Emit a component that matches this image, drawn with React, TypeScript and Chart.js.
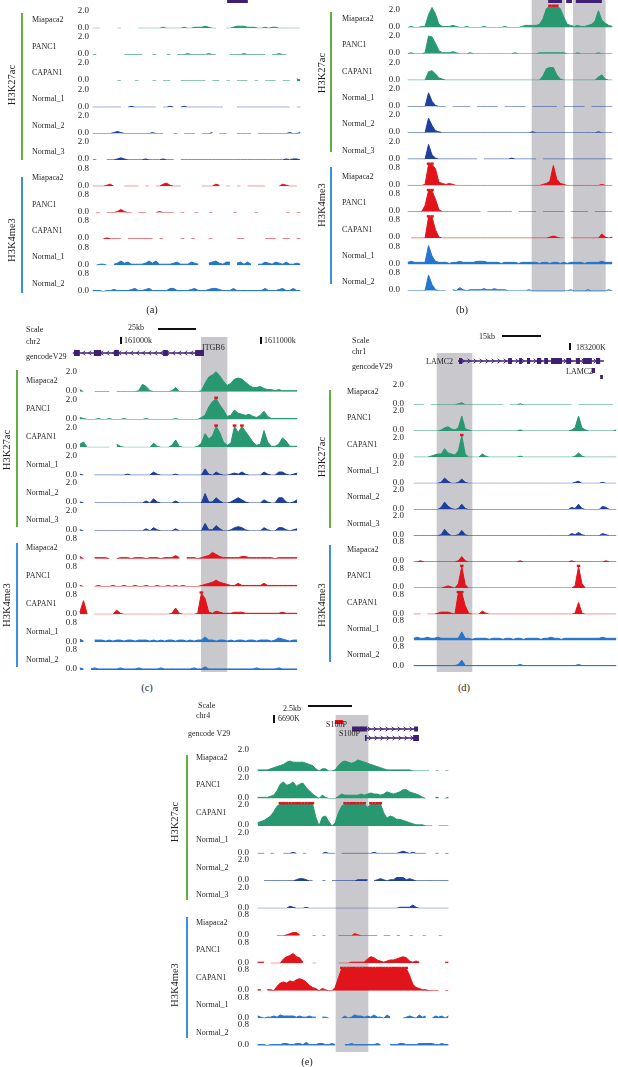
import React, { useEffect, useRef } from 'react';
import { Chart, registerables } from 'chart.js';

Chart.register(...registerables);

const n = null;
const NBINS = 60;

// ---------- track metadata ----------
const SAMPLES = ['Miapaca2', 'PANC1', 'CAPAN1', 'Normal_1', 'Normal_2', 'Normal_3', 'Miapaca2', 'PANC1', 'CAPAN1', 'Normal_1', 'Normal_2'];
const TRACK_KIND = ['k27', 'k27', 'k27', 'k27', 'k27', 'k27', 'k4', 'k4', 'k4', 'k4', 'k4'];
const TRACK_GROUP = ['k27c', 'k27c', 'k27c', 'k27n', 'k27n', 'k27n', 'k4c', 'k4c', 'k4c', 'k4n', 'k4n'];
const MARK_LABELS = ['H3K27ac', 'H3K4me3'];
const K27_TICK_LABELS = ['0.0', '2.0'];
const K4_TICK_LABELS = ['0.0', '0.8'];
const VIEW_MAX: any = { k27: 2.0, k4: 0.8 };
const UNIT: any = { k27: 0.1, k4: 0.04 }; // step of the integer signal arrays below

// ---------- panel (a) signal ----------
const A_MIA_K27 = [
  0, 0, 0, n, n, n, n, 0, 0, n,
  n, n, n, 0, 0, 0, 0, 0, 0, 0,
  1, 0, 0, 0, 0, 0, 1, 0, 0, 1,
  1, 1, 2, 1, 0, 0, n, n, 0, 0,
  1, 2, 2, 2, 1, 1, 1, 0, 0, 1,
  0, 1, 1, 0, 0, 0, 0, 0, 0, 0];
const A_PAN_K27 = [
  0, 0, n, n, n, n, n, n, n, 0,
  0, 0, 0, 0, 0, n, n, 0, 0, n,
  n, 0, 0, n, 0, 0, 0, 1, 0, 0,
  0, 0, 0, 1, 0, 0, n, n, n, 0,
  0, 0, 0, 1, 0, 0, 0, 0, 0, 0,
  n, 0, 0, 1, 0, 0, n, n, n, n];
const A_CAP_K27 = [
  n, n, n, n, n, n, n, 0, 0, n,
  n, n, 0, 0, n, n, n, 0, 0, n,
  0, 0, 0, n, n, 0, 0, 0, 0, 0,
  0, 0, 0, n, 0, 0, 0, n, 0, 0,
  n, 0, 0, 0, 0, n, 0, 0, n, 0,
  0, 0, 0, n, 0, 0, 0, n, 2, 1];
const A_N1_K27 = [
  0, 0, 0, 0, 0, 0, 0, 0, 0, n,
  0, 1, 0, 0, 0, 0, 0, 0, 0, n,
  0, 0, 1, 0, n, 0, 1, 0, 0, 0,
  0, 0, 0, 0, 0, 0, 0, 0, n, n,
  n, 0, 0, 0, 0, 0, 0, 0, 0, 0,
  0, 0, 0, 0, 0, 0, 0, n, 0, 0];
const A_N2_K27 = [
  0, 0, 0, 0, 0, 0, 1, 2, 1, 0,
  0, 0, 0, 0, 0, 0, 0, 1, 0, 0,
  0, n, n, 0, 0, n, 0, 0, 0, 0,
  n, 0, 0, 0, 1, n, 0, 0, 0, n,
  n, 0, 0, 0, 0, 0, n, 0, 0, 0,
  0, 0, 0, 0, 0, 0, 1, 0, 0, 1];
const A_N3_K27 = [
  0, 0, n, n, 0, 0, 0, 1, 2, 1,
  0, 0, 0, 0, 0, 1, 0, 0, 0, 0,
  1, 0, 0, 0, n, 0, 0, 0, 0, 0,
  0, 0, 0, 0, 0, 0, 0, 0, 0, 0,
  0, 0, 0, 0, 0, 0, 0, 0, 0, 0,
  0, 0, 0, 0, 0, 1, 0, 1, 1, 0];
const A_MIA_K4 = [
  0, 0, 0, 0, 1, 2, 0, n, n, 0,
  0, 0, 0, 0, n, 0, 0, n, 0, 0,
  2, 3, 1, 0, 0, 0, n, n, n, n,
  n, 0, 0, 0, 0, 2, 1, n, 0, 0,
  n, 0, 0, n, 0, 0, 0, 0, 0, 0,
  n, n, n, 0, 2, 1, 0, 0, 0, n];
const A_PAN_K4 = [
  n, 0, 0, n, 0, 0, 0, 1, 3, 1,
  0, 0, n, 0, 0, 0, n, n, 0, 1,
  0, 0, 0, 0, n, 0, 0, n, n, 0,
  0, n, n, 0, 0, n, n, n, n, n,
  0, 0, n, n, n, n, 0, 0, n, n,
  n, n, n, n, n, 0, 0, n, 0, 0];
const A_CAP_K4 = [
  n, n, n, 0, 1, 0, 0, 0, 0, n,
  0, 0, 0, 0, 0, 0, 0, 0, n, 0,
  0, n, n, n, n, 0, 0, n, 0, 0,
  n, n, n, 0, 0, n, n, n, n, n,
  n, 0, 0, 0, n, n, n, n, n, 0,
  0, 0, 0, n, 0, 0, 0, n, 0, 0];
const A_N1_K4 = [
  n, 0, 1, 1, 0, n, 1, 2, 4, 2,
  3, 1, 1, 1, 1, 2, 4, 2, 4, 1,
  1, 1, 1, 2, 3, 1, 1, 1, 3, 2,
  1, n, n, 2, 3, 4, 2, 1, 3, 3,
  n, 2, 3, 1, 3, 1, n, 1, 1, 3,
  2, 1, 3, 2, 1, 3, 1, 1, 2, 1];
const A_N2_K4 = [
  1, 1, 1, 0, 1, 1, 2, 1, 1, 1,
  1, 2, 3, 1, 1, 2, 3, 1, 1, 1,
  1, 1, 3, 3, 1, 1, 1, 1, 2, 3,
  1, 1, 1, 2, 3, 3, 2, 1, 1, 1,
  3, 1, 1, 1, 1, 1, 1, 1, 1, 3,
  1, 1, 1, 2, 3, 1, 1, 3, 1, 1];

// ---------- panel (b) signal ----------
const B_MIA_K27 = [
  0, 1, 0, 0, 1, 1, 12, 19, 13, 3,
  1, 1, 1, 2, 1, 0, 0, 1, 0, 0,
  0, 0, 1, 0, 0, 0, 0, 0, 1, 0,
  0, 0, 0, 1, 2, 2, 2, 2, 3, 8,
  18, 20, 20, 20, 18, 10, 3, 2, 1, 2,
  1, 1, 2, 3, 6, 16, 7, 4, 2, 1];
const B_PAN_K27 = [
  0, 1, 0, 0, 0, 1, 17, 16, 10, 3,
  1, 1, 1, 2, 1, 0, 0, 0, 1, 0,
  0, 0, 0, 0, 0, 0, 0, 0, 0, 0,
  0, 1, 0, 0, 0, 0, 0, 0, 1, 1,
  1, 1, 1, 1, 1, 1, 0, 0, 0, 1,
  0, 0, 0, 0, 0, 1, 0, 0, 0, 0];
const B_CAP_K27 = [
  0, 0, 0, 0, 0, 0, 8, 9, 6, 2,
  1, 0, 0, 0, 0, 0, 0, 0, 0, 0,
  0, 0, 0, 0, 0, 0, 0, 0, 0, 0,
  0, 0, 0, 0, 0, 0, 0, 0, 0, 4,
  11, 12, 12, 5, 1, 0, 0, 0, 0, 0,
  0, 0, 0, 0, 0, 3, 5, 1, 0, 0];
const B_N1_K27 = [
  0, 0, 0, 0, 0, 0, 13, 5, 1, 0,
  0, 0, n, 0, 0, 0, 0, 0, 0, n,
  0, 0, 0, 0, 0, 0, 0, n, 0, 0,
  0, 0, 0, 0, 0, n, 0, 0, 0, 0,
  0, 0, 0, 0, n, 0, 0, 0, 0, 0,
  0, 0, n, 0, 0, 0, 0, 0, 0, 0];
const B_N2_K27 = [
  0, 0, 0, 0, 0, 0, 14, 7, 2, 1,
  0, 0, 0, 0, 0, 0, 0, 0, 0, 0,
  0, 0, 0, 0, 0, 0, 0, 0, 0, 0,
  0, 0, 0, 0, 0, 0, 1, 0, 0, 0,
  0, 0, 0, 0, 0, 0, 0, 0, 0, 0,
  0, 0, 0, 0, 0, 1, 0, 0, 0, 0];
const B_N3_K27 = [
  0, 0, 0, 0, 0, 0, 14, 4, 1, 0,
  0, 0, 0, 0, 0, 0, 0, 0, 0, 0,
  0, n, 0, 0, 0, 0, 0, 0, 0, 0,
  1, 0, 0, 0, 0, 0, 0, 0, n, 0,
  0, 0, 0, 0, 0, 0, 0, 0, 0, 0,
  0, 0, 0, 0, 0, 0, 0, 0, 0, 0];
const B_MIA_K4 = [
  0, 0, 0, 0, 0, 1, 20, 20, 16, 3,
  2, 1, 2, 1, 0, 0, 0, 0, 0, 0,
  0, 0, 0, 0, 0, 0, 0, 0, 0, 0,
  0, 0, 0, 0, 0, 0, 0, 0, 0, 1,
  2, 4, 19, 6, 2, 1, 0, 0, 0, 0,
  0, 0, 0, 0, 0, 0, 1, 0, 0, 0];
const B_PAN_K4 = [
  0, 0, 0, 0, 0, 6, 20, 20, 12, 2,
  0, 0, 0, 0, 0, 0, 0, 0, 0, 0,
  0, 0, n, 0, 0, 0, 0, 0, 0, 0,
  0, n, 0, 0, 0, 0, 0, 0, n, 0,
  0, 0, 0, 0, 0, 0, n, 0, 0, 0,
  0, 0, 0, n, 0, 0, 0, 0, 0, 0];
const B_CAP_K4 = [
  n, 0, 0, 0, 0, 0, 20, 20, 8, 1,
  0, 0, 0, 0, 0, 0, 0, 0, 0, 0,
  0, 0, 0, 0, 0, 0, 0, 0, 0, 0,
  0, 0, 0, 0, 0, 0, 0, 0, 0, 0,
  0, 1, 2, 1, 0, 0, n, 0, 0, 0,
  0, 0, 0, 0, 0, 0, 4, 1, 0, 1];
const B_N1_K4 = [
  2, 3, 2, 2, 2, 2, 18, 8, 3, 2,
  2, 2, 1, 2, 2, 3, 2, 2, 2, 2,
  3, 3, 3, 2, 2, 2, 2, 1, 2, 2,
  2, 2, 1, 2, 2, 2, 2, 2, 1, 2,
  2, 1, 2, 2, 1, 2, 1, 2, 2, 2,
  2, 1, 2, 2, 2, 2, 3, 2, 2, 2];
const B_N2_K4 = [
  0, 0, 0, 0, 0, 0, 15, 6, 1, 0,
  0, 0, n, 1, 0, 3, 1, 0, 1, 1,
  1, 1, 2, 1, 1, 2, 1, 1, 1, 0,
  0, 0, 0, 0, 0, 1, 0, 0, 0, 0,
  0, 0, 0, 0, 0, 0, 0, 1, 0, 0,
  0, 0, 1, 0, 0, 0, 0, 0, 1, 0];

// ---------- panel (c) signal ----------
const C_MIA_K27 = [
  2, 0, n, n, 0, 0, 0, 0, 0, n,
  0, 0, 0, 0, 0, 0, 1, 7, 5, 1,
  0, 0, 0, 0, 0, 1, 4, 0, 0, 0,
  0, 0, 0, 1, 8, 14, 16, 19, 15, 10,
  6, 8, 12, 13, 12, 9, 6, 4, 4, 5,
  3, 2, 2, 1, 2, 1, 1, 1, 1, 1];
const C_PAN_K27 = [
  2, 1, 0, 0, 0, 1, 0, 0, 1, 0,
  0, 0, 1, 0, 0, 0, 0, 0, 1, 0,
  0, 0, 0, 0, 0, 0, 1, 0, 0, 0,
  0, 0, 0, 2, 4, 12, 17, 20, 14, 9,
  3, 4, 9, 6, 5, 4, 5, 3, 2, 4,
  8, 3, 1, 1, 1, 1, 1, 1, 1, 1];
const C_CAP_K27 = [
  3, 5, 0, 0, 0, 0, 0, 0, 0, n,
  3, 1, 0, 0, 0, 0, 0, 0, 0, 0,
  4, 1, 0, 0, 0, 2, 7, 1, 0, 0,
  0, 0, 1, 4, 13, 8, 11, 20, 14, 5,
  2, 4, 20, 14, 20, 15, 10, 5, 2, 3,
  16, 5, 1, 1, 3, 9, 6, 1, 1, 1];
const C_N1_K27 = [
  1, 0, n, n, 0, 0, 0, 0, 0, 0,
  0, 0, 0, 1, 0, 0, 0, 0, 0, 0,
  3, 1, 0, 0, 0, 0, 1, 0, 0, 0,
  0, 0, 0, 0, 6, 1, 0, 3, 1, 0,
  0, 1, 2, 1, 3, 1, 0, 0, 0, 0,
  3, 1, 0, 0, 3, 3, 1, 0, 1, 2];
const C_N2_K27 = [
  1, 0, n, n, 0, 0, 0, 0, 0, 0,
  0, 0, 0, 0, 0, 0, 0, 0, 2, 0,
  4, 1, 0, 0, 0, 0, 2, 0, 0, 0,
  0, 0, 0, 0, 9, 1, 1, 5, 2, 0,
  0, 1, 3, 5, 3, 1, 0, 0, 0, 0,
  3, 1, 0, 0, 5, 5, 1, 0, 1, 3];
const C_N3_K27 = [
  1, 0, n, n, 0, 0, 0, 0, 0, 0,
  0, 0, 0, 0, 0, 0, 0, 0, 2, 0,
  3, 1, 0, 0, 0, 0, 2, 0, 0, 0,
  0, 0, 0, 0, 7, 1, 1, 5, 2, 0,
  0, 1, 3, 4, 3, 1, 0, 0, 0, 0,
  3, 1, 0, 0, 3, 3, 1, 0, 1, 2];
const C_MIA_K4 = [
  2, 0, n, n, 1, 1, 1, 1, 0, n,
  0, 1, 1, 1, 0, 1, 1, 1, 0, 1,
  1, 1, 0, 1, 1, 1, 3, 1, n, 1,
  1, 1, 0, 1, 2, 3, 6, 4, 2, 1,
  1, 1, 1, 1, 2, 2, 1, 1, 1, 1,
  1, 1, 1, 0, 1, 1, 1, 1, 1, 1];
const C_PAN_K4 = [
  1, 0, n, n, 0, 1, 0, 0, 0, 1,
  0, 0, 1, 0, 0, 1, 0, 0, 1, 0,
  0, 1, 0, 0, 1, 0, 1, 0, 1, 0,
  0, 0, 0, 1, 2, 3, 4, 6, 4, 3,
  2, 1, 1, 3, 1, 1, 1, 1, 1, 1,
  3, 1, 1, 1, 1, 1, 1, 1, 1, 1];
const C_CAP_K4 = [
  2, 13, 0, n, 0, 0, 0, 0, 0, 0,
  4, 1, 0, 0, 0, 0, 0, 0, 0, 0,
  0, 0, 0, 0, 0, 1, 6, 1, 0, 0,
  0, 0, 1, 20, 15, 2, 1, 3, 2, 1,
  1, 1, 2, 2, 2, 1, 1, 1, 1, 1,
  1, 1, 1, 1, 1, 2, 1, 1, 1, 1];
const C_N1_K4 = [
  3, 1, n, n, 2, 2, 2, 1, 2, 1,
  2, 2, 1, 2, 2, 1, 2, 2, 2, 1,
  2, 1, 2, 1, 2, 2, 1, 2, 2, 1,
  2, 1, 2, 2, 5, 2, 2, 1, 2, 2,
  1, 2, 1, 2, 2, 1, 2, 2, 1, 2,
  2, 2, 1, 2, 4, 3, 2, 1, 2, 2];
const C_N2_K4 = [
  2, 1, n, 1, 2, 1, 1, 1, 1, 1,
  1, 2, 1, 1, 1, 1, 2, 1, 1, 1,
  1, 1, 2, 1, 1, 1, 1, 1, 1, 1,
  1, 2, 1, 1, 3, 1, 1, 1, 1, 1,
  1, 1, 1, 1, 1, 1, 1, 1, 2, 1,
  1, 1, 1, 1, 2, 1, 1, 1, 1, 1];

// ---------- panel (d) signal ----------
const D_MIA_K27 = [
  0, 0, 0, 0, n, 0, 0, 0, 0, 0,
  0, 0, 0, 1, 2, 0, 0, 0, 0, 0,
  0, 0, 0, 0, 0, 0, 0, n, 0, 0,
  0, 1, 0, 0, 0, 0, 0, 0, 0, 0,
  0, 0, 0, 0, 0, 0, 0, n, 0, 0,
  0, 0, 0, 0, 0, 0, 0, 0, 0, n];
const D_PAN_K27 = [
  0, 0, 0, 0, 0, 0, 0, 0, 1, 3,
  4, 2, 1, 3, 14, 2, 1, 0, 0, 0,
  0, 0, 0, 0, 0, 0, 0, 0, 0, 0,
  0, 1, 0, 0, 0, 0, 0, 0, 0, 0,
  0, 0, 0, 0, 0, 0, 1, 3, 14, 3,
  1, 0, 0, 0, 0, 0, 0, 0, 0, 1];
const D_CAP_K27 = [
  0, 0, 0, 0, 0, 1, 2, 3, 3, 8,
  4, 3, 2, 6, 20, 3, 0, 0, 0, 0,
  3, 1, 0, 0, 0, 0, 0, 0, 0, 0,
  0, 1, 0, 0, 0, 0, 0, 0, 0, 0,
  0, 0, 0, 0, 0, 0, 0, 1, 4, 1,
  0, 0, 0, 0, 0, 0, 0, 0, 0, 0];
const D_N1_K27 = [
  0, 0, 0, 0, 0, 0, 0, 0, 1, 5,
  2, 0, 0, 1, 4, 1, 0, 0, 0, 0,
  0, 0, 0, 0, 0, 0, 0, 0, 0, 0,
  0, 0, 0, 0, 0, 0, 0, 0, 0, 0,
  0, 0, 0, 0, 0, 0, 0, 1, 2, 0,
  0, 0, 0, 0, 0, 1, 0, 0, 0, 0];
const D_N2_K27 = [
  0, 0, 0, 0, 0, 0, 0, 0, 2, 7,
  3, 1, 0, 1, 5, 1, 0, 0, 0, 0,
  0, 0, 0, 0, 0, 0, 0, 0, 0, 0,
  0, 0, 0, 0, 0, 0, 0, 0, 0, 0,
  0, 0, 0, 0, 0, 0, 2, 1, 5, 1,
  0, 0, 0, 0, 0, 3, 2, 0, 0, 0];
const D_N3_K27 = [
  0, 0, 0, 0, 0, 0, 0, 0, 1, 6,
  2, 0, 0, 1, 5, 1, 0, 0, 0, 0,
  0, 0, 0, 0, 0, 0, 0, 0, 0, 0,
  0, 0, 0, 0, 0, 0, 0, 0, 0, 0,
  0, 0, 0, 0, 0, 0, 2, 1, 3, 1,
  0, 0, 0, 0, 0, 2, 1, 0, 0, 0];
const D_MIA_K4 = [
  0, 0, 1, 0, 0, 0, 0, 0, 0, 0,
  0, 0, 0, 1, 5, 1, 0, 0, 0, 0,
  0, 0, 0, 0, 0, 0, 0, 0, 0, 0,
  0, 1, 0, 0, 0, 0, 0, 0, 0, 0,
  0, 0, 0, 0, 0, 0, 1, 0, 0, 0,
  0, 0, 0, 0, 0, 0, 1, 0, 0, 0];
const D_PAN_K4 = [
  0, 0, 0, 0, 0, 0, 0, 0, 0, 1,
  2, 1, 0, 4, 20, 3, 0, 0, 0, 0,
  0, 0, 0, 0, 0, 0, 0, 0, 0, 0,
  0, 0, 0, 0, 0, 0, 0, 0, 0, 0,
  0, 0, 0, 0, 0, 0, 0, 2, 20, 4,
  0, 0, 0, 0, 0, 0, 0, 0, 0, 0];
const D_CAP_K4 = [
  0, 0, 0, n, 0, 0, 0, 1, 2, 2,
  2, 1, 0, 20, 20, 8, 1, 0, 0, 0,
  3, 1, 0, 0, 0, 0, 0, 0, 0, 0,
  0, 0, 0, 0, 0, 0, 0, 0, 0, 0,
  0, 0, 0, 0, 0, 0, 0, 1, 11, 1,
  0, 0, 0, 0, 0, 0, 0, 0, 0, 0];
const D_N1_K4 = [
  2, 3, 2, 2, 3, 2, 2, 3, 2, 2,
  2, 2, 2, 2, 8, 2, 2, 1, 2, 2,
  2, 2, 1, 2, 2, 2, 1, 2, 2, 1,
  2, 2, 1, 2, 2, 2, 2, 1, 2, 2,
  3, 2, 2, 1, 2, 2, 2, 2, 2, 2,
  2, 2, 2, 2, 2, 3, 2, 2, 2, 2];
const D_N2_K4 = [
  1, 1, 1, 1, 1, 1, 1, 1, 1, 1,
  1, 1, 1, 2, 6, 1, 1, 1, 1, 1,
  1, 1, 1, 1, 1, 1, 1, 1, 1, 1,
  1, 2, 1, 1, 1, 1, 1, 1, 1, 1,
  1, 1, 1, 1, 1, 1, 1, 1, 2, 1,
  1, 1, 1, 1, 1, 1, 1, 1, 1, 1];

// ---------- panel (e) signal ----------
const E_MIA_K27 = [
  1, 1, 1, 1, 2, 3, 4, 5, 6, 8,
  9, 8, 8, 8, 8, 7, 6, 5, 2, 0,
  2, 2, 0, 0, 1, 5, 8, 9, 8, 7,
  8, 10, 9, 8, 7, 6, 5, 4, 3, 2,
  1, 1, 1, 1, 1, 1, 1, 1, 0, 0,
  0, 0, 0, 0, n, 0, 0, n, 0, 0];
const E_PAN_K27 = [
  1, 1, 1, 1, 2, 3, 7, 13, 15, 12,
  13, 15, 11, 13, 14, 10, 7, 4, 2, 0,
  3, 1, 0, 0, 0, 2, 4, 3, 3, 3,
  3, 3, 4, 3, 4, 5, 4, 4, 3, 4,
  6, 5, 4, 5, 6, 8, 8, 6, 5, 4,
  3, 1, 0, n, n, 1, 1, n, 0, 1];
const E_CAP_K27 = [
  3, 4, 5, 7, 9, 13, 18, 20, 20, 20,
  20, 20, 20, 20, 20, 20, 20, 20, 8, 0,
  8, 9, 4, 0, 3, 12, 18, 20, 20, 20,
  20, 20, 20, 20, 17, 20, 20, 20, 20, 12,
  7, 9, 8, 6, 6, 5, 4, 3, 2, 1,
  1, 1, 0, 0, 0, n, 0, 0, 0, 0];
const E_N1_K27 = [
  0, 0, 0, n, 0, 0, n, n, 0, 0,
  0, 1, 0, n, 0, 0, n, n, n, n,
  0, 1, 0, 0, 0, n, 0, 0, 0, 0,
  0, 0, 0, 0, 0, 0, 1, 0, 0, 0,
  0, 0, 0, 0, 1, 2, 1, 0, 1, 0,
  0, 0, 0, n, n, 0, 0, n, 0, 0];
const E_N2_K27 = [
  n, n, 0, 0, 0, 0, 0, 0, 0, 0,
  0, 0, 1, 2, 2, 1, 0, 0, n, n,
  0, 0, n, 0, 0, 0, 0, 0, 0, 0,
  0, 1, 1, 1, 1, n, 0, 1, 2, 1,
  0, 1, 1, 3, 3, 3, 1, 2, 1, 0,
  0, 0, 0, 0, 0, 0, 0, 0, 0, 0];
const E_N3_K27 = [
  0, 0, 0, 0, 0, 0, 0, 0, 0, 0,
  2, 1, 0, 0, 0, 1, 0, 0, 0, 0,
  0, 0, 0, 0, 0, 0, 0, 0, 0, 0,
  0, 0, 0, 0, 0, 0, 0, 0, 0, 0,
  0, 0, 0, 0, 1, 1, 1, 1, 3, 1,
  0, 0, 0, 0, 0, 0, 0, 0, 0, 0];
const E_MIA_K4 = [
  n, n, n, n, n, n, 0, 0, 0, 1,
  2, 3, 3, 1, n, n, n, 0, 0, n,
  0, 0, n, n, n, 0, 0, 0, 0, 0,
  2, 1, 0, 0, 0, 0, 0, 0, n, 0,
  0, 0, n, 0, 0, n, n, 0, 0, n,
  n, 0, 0, n, n, n, 0, 0, n, n];
const E_PAN_K4 = [
  1, 1, 1, n, 0, 0, 0, 0, 4, 6,
  7, 9, 6, 5, 1, n, n, 0, 0, n,
  n, n, n, n, n, 0, 0, 0, 0, 1,
  1, 1, 1, 1, 4, 6, 5, 3, 2, 1,
  2, 3, 3, 4, 5, 6, 5, 2, 1, 2,
  1, n, n, n, n, n, n, n, 1, 1];
const E_CAP_K4 = [
  1, 1, n, 1, 1, 0, 4, 7, 8, 7,
  9, 8, 10, 11, 10, 8, 5, 3, 2, 0,
  2, 1, 0, 0, 3, 12, 20, 20, 20, 20,
  20, 20, 20, 20, 20, 20, 20, 20, 20, 20,
  20, 20, 20, 20, 20, 20, 20, 14, 6, 3,
  2, 1, 1, 0, 0, 0, 0, n, 0, 0];
const E_N1_K4 = [
  2, 1, 0, 1, 1, 2, 1, 3, 2, 2,
  2, 2, 1, 2, 1, 1, 2, 1, 1, n,
  1, 1, 0, n, n, n, 0, 2, 0, 1,
  3, 2, 2, 1, 2, 1, 3, 1, 1, 0,
  3, 1, n, n, n, 0, 1, 2, 1, 0,
  3, 1, 2, n, 0, 2, 1, 2, 0, 2];
const E_N2_K4 = [
  1, 1, 1, 0, 1, 1, 1, 1, 2, 2,
  1, 1, 2, 2, 1, 3, 1, 1, 1, 2,
  2, 1, 1, 2, 1, n, n, 1, 1, 2,
  1, 1, 1, 1, 1, 1, 1, 2, 1, n,
  n, 1, 1, 1, 2, 2, 1, 1, 1, 1,
  2, 2, 2, 2, 2, 1, 1, 2, 1, 1];

// ---------- highlighted regions & gene models (in bin units) ----------
const B_REGIONS = [[36.25, 45.87], [48.17, 57.59]];
const C_REGIONS = [[33.4, 40.54]];
const D_REGIONS = [[7.19, 17.57]];
const E_REGIONS = [[24.64, 34.74]];

const A_GENE_BLOCKS = [[38.7, 44.6]];
const B_GENE_BLOCKS = [[41.0, 45.0], [46.2, 47.9], [49.0, 56.5]];
const C_GENE_SPAN = [-1.4, 33.9];
const C_GENE_EXONS = [[-1.1, 0.5], [4.3, 6.3], [9.8, 11.1], [23.1, 24.4], [31.8, 34.2]];
const D_GENE_SPAN = [13.4, 55.9];
const D_GENE_EXONS = [[13.7, 14.6], [28.0, 29.1], [31.2, 32.0], [33.5, 34.4], [36.4, 37.6], [38.5, 39.6], [40.5, 43.7], [44.9, 46.3], [47.8, 48.9], [49.8, 52.4], [53.6, 54.8]];
const D_GENE2_BLOCKS = [[52.4, 53.3], [54.8, 55.6]];
const E_GENE1_SPAN = [29.7, 50.1];
const E_GENE1_EXONS = [[29.7, 34.3], [48.9, 50.1]];
const E_GENE2_SPAN = [33.7, 50.1];
const E_GENE2_EXONS = [[33.7, 34.2], [48.6, 50.4]];
const E_MARK_BLOCK = [24.4, 26.9];

// ---------- styles ----------
const COLORS: any = { k27c: '#289871', k27n: '#1E3F9E', k4c: '#E1141C', k4n: '#2475CF' };
const GENE_COLOR = '#3E1F73';
const REGION_COLOR = '#C9C8CC';
const CLIP_COLOR = '#E1141C';
const SIDE_COLORS = ['#63AE3F', '#3B91D9'];
const TEXT_COLOR = '#231F20';
const FONT = '"Liberation Serif", "Times New Roman", serif';
const AXW = 24;

const PANELS: any[] = [
  {
    id: 'a', letter: '(a)', left: 0, top: -12, width: 309, height: 320,
    x0: 91, x1: 302, b0: 28.3, bN: 291.6, H: 21, lbl: 18, tickPad: 2,
    nameX: 32, nameOff: 8, sideX: 22, side27: [13, 160], side4: [177, 293], markX: 12, markY: [85, 240], letterXY: [152, 310],
    series: [A_MIA_K27, A_PAN_K27, A_CAP_K27, A_N1_K27, A_N2_K27, A_N3_K27, A_MIA_K4, A_PAN_K4, A_CAP_K4, A_N1_K4, A_N2_K4],
    regions: [], regionY: [0, 0],
    blocks: [{ r: A_GENE_BLOCKS[0], y: [-12, 3], c: GENE_COLOR }],
    genes: [], texts: [], rules: [],
  },
  {
    id: 'b', letter: '(b)', left: 309, top: -12, width: 309, height: 320,
    x0: 406, x1: 614, b0: 27.5, bN: 290.8, H: 21, lbl: 18, tickPad: 6,
    nameX: 342, nameOff: 8.5, sideX: 331, side27: [12, 152], side4: [167, 284], markX: 322, markY: [73, 205], letterXY: [462, 310],
    series: [B_MIA_K27, B_PAN_K27, B_CAP_K27, B_N1_K27, B_N2_K27, B_N3_K27, B_MIA_K4, B_PAN_K4, B_CAP_K4, B_N1_K4, B_N2_K4],
    regions: B_REGIONS, regionY: [-12, 292],
    blocks: B_GENE_BLOCKS.map((r) => ({ r, y: [-12, 3], c: GENE_COLOR })),
    genes: [], texts: [], rules: [],
  },
  {
    id: 'c', letter: '(c)', left: 0, top: 320, width: 309, height: 360,
    x0: 78, x1: 299, b0: 391.7, bN: 670, H: 21, lbl: 20, tickPad: 1,
    nameX: 26, nameOff: 10.5, sideX: 17, side27: [370, 527], side4: [543, 667], markX: 7, markY: [450, 605], letterXY: [147, 688],
    series: [C_MIA_K27, C_PAN_K27, C_CAP_K27, C_N1_K27, C_N2_K27, C_N3_K27, C_MIA_K4, C_PAN_K4, C_CAP_K4, C_N1_K4, C_N2_K4],
    regions: C_REGIONS, regionY: [337, 672],
    blocks: [],
    genes: [{ span: C_GENE_SPAN, exons: C_GENE_EXONS, y: 353, strand: -1, hh: 3 }],
    texts: [['Scale', 26, 330], ['25kb', 128, 328], ['chr2', 26, 342], ['161000k', 124, 341], ['1611000k', 264, 341], ['gencodeV29', 26, 357], ['ITGB6', 202, 348]],
    rules: [[158, 329, 196, 329], [121, 337, 121, 344], [261, 337, 261, 344]],
  },
  {
    id: 'd', letter: '(d)', left: 309, top: 320, width: 309, height: 360,
    x0: 412, x1: 618, b0: 405, bN: 668.3, H: 21.5, lbl: 20, tickPad: 8,
    nameX: 347, nameOff: 13, sideX: 330, side27: [390, 528], side4: [545, 662], markX: 321.5, markY: [457, 605], letterXY: [464, 688],
    series: [D_MIA_K27, D_PAN_K27, D_CAP_K27, D_N1_K27, D_N2_K27, D_N3_K27, D_MIA_K4, D_PAN_K4, D_CAP_K4, D_N1_K4, D_N2_K4],
    regions: D_REGIONS, regionY: [353, 672],
    blocks: [{ r: D_GENE2_BLOCKS[0], y: [368, 373], c: GENE_COLOR }, { r: D_GENE2_BLOCKS[1], y: [375, 379], c: GENE_COLOR }],
    genes: [{ span: D_GENE_SPAN, exons: D_GENE_EXONS, y: 361, strand: 1, hh: 3 }],
    texts: [['Scale', 352, 341], ['15kb', 479, 337], ['chr1', 352, 352], ['183200K', 576, 348], ['gencodeV29', 352, 367], ['LAMC2', 426, 362], ['LAMC2', 566, 372]],
    rules: [[502, 336, 541, 336], [570, 343, 570, 350]],
  },
  {
    id: 'e', letter: '(e)', left: 150, top: 695, width: 320, height: 372,
    x0: 256, x1: 450, b0: 771, bN: 1045.7, H: 22, lbl: 21, tickPad: 7,
    nameX: 196, nameOff: 13, sideX: 187, side27: [755, 900], side4: [917, 1038], markX: 175, markY: [822, 985], letterXY: [307, 1062],
    series: [E_MIA_K27, E_PAN_K27, E_CAP_K27, E_N1_K27, E_N2_K27, E_N3_K27, E_MIA_K4, E_PAN_K4, E_CAP_K4, E_N1_K4, E_N2_K4],
    regions: E_REGIONS, regionY: [715, 1052],
    blocks: [{ r: E_MARK_BLOCK, y: [720, 724], c: CLIP_COLOR }],
    genes: [
      { span: E_GENE1_SPAN, exons: E_GENE1_EXONS, y: 729, strand: 1, hh: 2.5 },
      { span: E_GENE2_SPAN, exons: E_GENE2_EXONS, y: 738, strand: 1, hh: 3 },
    ],
    texts: [['Scale', 198, 706], ['2.5kb', 283, 709], ['chr4', 196, 716], ['6690K', 278, 719], ['gencode V29', 188, 734], ['S100P', 326, 725], ['S100P', 339, 734]],
    rules: [[308, 706, 352, 706], [274, 715, 274, 723]],
  },
];

function decorPlugin(p: any) {
  return {
    id: 'decor_' + p.id,
    beforeDatasetsDraw(chart: any) {
      const ctx = chart.ctx;
      const xs = chart.scales.x;
      ctx.save();
      ctx.fillStyle = REGION_COLOR;
      for (const [a, b] of p.regions) {
        const xa = xs.getPixelForValue(a);
        const xb = xs.getPixelForValue(b);
        ctx.fillRect(xa, p.regionY[0] - p.top, xb - xa, p.regionY[1] - p.regionY[0]);
      }
      ctx.restore();
    },
    afterDatasetsDraw(chart: any) {
      const ctx = chart.ctx;
      const xs = chart.scales.x;
      ctx.save();
      // clipping indicators above saturated bins
      chart.data.datasets.forEach((ds: any, i: number) => {
        const kind = TRACK_KIND[i];
        const ys = chart.scales['y' + i];
        const yTop = ys.getPixelForValue(VIEW_MAX[kind]);
        ctx.fillStyle = CLIP_COLOR;
        ds.data.forEach((pt: any, k: number) => {
          if (pt.y !== null && pt.y >= VIEW_MAX[kind] - 1e-6) {
            const xa = xs.getPixelForValue(k);
            const xb = xs.getPixelForValue(k + 1);
            ctx.fillRect(xa, yTop - 2, xb - xa, 2.4);
          }
        });
      });
      // annotation blocks
      for (const bl of p.blocks) {
        const xa = xs.getPixelForValue(bl.r[0]);
        const xb = xs.getPixelForValue(bl.r[1]);
        ctx.fillStyle = bl.c;
        ctx.fillRect(xa, bl.y[0] - p.top, xb - xa, bl.y[1] - bl.y[0]);
      }
      // gene models
      ctx.fillStyle = GENE_COLOR;
      ctx.strokeStyle = GENE_COLOR;
      for (const g of p.genes) {
        const y = g.y - p.top;
        const xa = xs.getPixelForValue(g.span[0]);
        const xb = xs.getPixelForValue(g.span[1]);
        ctx.lineWidth = 1.3;
        ctx.beginPath();
        ctx.moveTo(xa, y);
        ctx.lineTo(xb, y);
        ctx.stroke();
        ctx.lineWidth = 0.9;
        const d = g.strand;
        for (let cx = xa + 5; cx < xb - 3; cx += 6) {
          ctx.beginPath();
          ctx.moveTo(cx - 1.4 * d, y - 2.2);
          ctx.lineTo(cx + 1.4 * d, y);
          ctx.lineTo(cx - 1.4 * d, y + 2.2);
          ctx.stroke();
        }
        for (const [a, b] of g.exons) {
          const ea = xs.getPixelForValue(a);
          const eb = xs.getPixelForValue(b);
          ctx.fillRect(ea, y - g.hh, Math.max(eb - ea, 1.2), 2 * g.hh);
        }
      }
      ctx.restore();
    },
  };
}

function buildConfig(p: any) {
  const P = (p.bN - p.b0) / 10;
  const scales: any = {
    x: { type: 'linear', min: 0, max: NBINS, display: false, bounds: 'data' },
  };
  const datasets: any[] = [];
  p.series.forEach((vals: any[], i: number) => {
    const kind = TRACK_KIND[i];
    const vmax = VIEW_MAX[kind];
    const labels = kind === 'k27' ? K27_TICK_LABELS : K4_TICK_LABELS;
    scales['y' + i] = {
      type: 'linear', position: 'left', stack: 'tracks', stackWeight: 1, weight: 100 - i,
      min: 0, max: (vmax * P) / p.H, bounds: 'data',
      grid: { display: false, drawTicks: false },
      border: { display: false },
      afterBuildTicks: (s: any) => { s.ticks = [{ value: 0 }, { value: (vmax * (p.lbl - 1)) / p.H }]; },
      afterFit: (s: any) => { s.width = AXW; },
      ticks: {
        autoSkip: false, padding: p.tickPad, labelOffset: -1, color: TEXT_COLOR,
        font: { family: FONT, size: 9 },
        callback: (_v: any, idx: number) => labels[idx],
      },
    };
    const col = COLORS[TRACK_GROUP[i]];
    datasets.push({
      label: SAMPLES[i] + ' ' + (kind === 'k27' ? MARK_LABELS[0] : MARK_LABELS[1]),
      data: vals.map((v, k) => ({ x: k + 0.5, y: v === null ? null : v * UNIT[kind] })),
      xAxisID: 'x', yAxisID: 'y' + i,
      borderColor: col, backgroundColor: col, borderWidth: 1,
      pointRadius: 0, pointHoverRadius: 0, tension: 0, fill: 'origin', spanGaps: false,
    });
  });
  return {
    type: 'line',
    data: { datasets },
    options: {
      responsive: false, maintainAspectRatio: false, animation: false, events: [],
      layout: {
        padding: {
          left: p.x0 - p.left - AXW,
          right: p.left + p.width - p.x1,
          top: p.b0 - P - p.top,
          bottom: p.top + p.height - p.bN,
        },
      },
      plugins: { legend: { display: false }, tooltip: { enabled: false } },
      scales,
    },
    plugins: [decorPlugin(p)],
  };
}

function TrackPanel({ p }: any) {
  const ref = useRef<HTMLCanvasElement | null>(null);
  useEffect(() => {
    const chart = new Chart(ref.current as HTMLCanvasElement, buildConfig(p) as any);
    return () => chart.destroy();
  }, [p]);
  return (
    <canvas ref={ref} width={p.width} height={p.height}
      style={{ position: 'absolute', left: p.left, top: p.top, width: p.width, height: p.height }} />
  );
}

function Txt({ x, y, size = 8, center = false, rot = false, children }: any) {
  let transform = 'translateY(-50%)';
  if (center) transform = 'translate(-50%,-50%)';
  if (rot) transform = 'translate(-50%,-50%) rotate(-90deg)';
  return (
    <div style={{ position: 'absolute', left: x, top: y, transform, fontSize: size, lineHeight: 1, whiteSpace: 'nowrap', fontFamily: FONT, color: TEXT_COLOR }}>
      {children}
    </div>
  );
}

function Rule({ r, w = 1, color = '#111' }: any) {
  const [x0, y0, x1, y1] = r;
  const vertical = x0 === x1;
  return (
    <div style={{
      position: 'absolute', background: color,
      left: vertical ? x0 - w / 2 : x0, top: vertical ? y0 : y0 - w / 2,
      width: vertical ? w : x1 - x0, height: vertical ? y1 - y0 : w,
    }} />
  );
}

function PanelLabels({ p }: any) {
  const P = (p.bN - p.b0) / 10;
  return (
    <>
      {SAMPLES.map((s, i) => (
        <Txt key={'s' + i} x={p.nameX} y={p.b0 + i * P - p.nameOff}>{s}</Txt>
      ))}
      <Rule r={[p.sideX, p.side27[0], p.sideX, p.side27[1]]} w={1.5} color={SIDE_COLORS[0]} />
      <Rule r={[p.sideX, p.side4[0], p.sideX, p.side4[1]]} w={1.5} color={SIDE_COLORS[1]} />
      <Txt x={p.markX} y={p.markY[0]} size={10.5} rot>{MARK_LABELS[0]}</Txt>
      <Txt x={p.markX} y={p.markY[1]} size={10.5} rot>{MARK_LABELS[1]}</Txt>
      <Txt x={p.letterXY[0]} y={p.letterXY[1]} size={10.5} center>{p.letter}</Txt>
      {p.texts.map((t: any, i: number) => (
        <Txt key={'t' + i} x={t[1]} y={t[2]} size={8}>{t[0]}</Txt>
      ))}
      {p.rules.map((r: any, i: number) => (
        <Rule key={'r' + i} r={r} w={1.1} />
      ))}
    </>
  );
}

export default function App() {
  return (
    <div style={{ position: 'absolute', left: 0, top: 0, width: 618, height: 1067, overflow: 'hidden', background: '#ffffff' }}>
      {PANELS.map((p) => <TrackPanel key={p.id} p={p} />)}
      {PANELS.map((p) => <PanelLabels key={'l' + p.id} p={p} />)}
    </div>
  );
}
